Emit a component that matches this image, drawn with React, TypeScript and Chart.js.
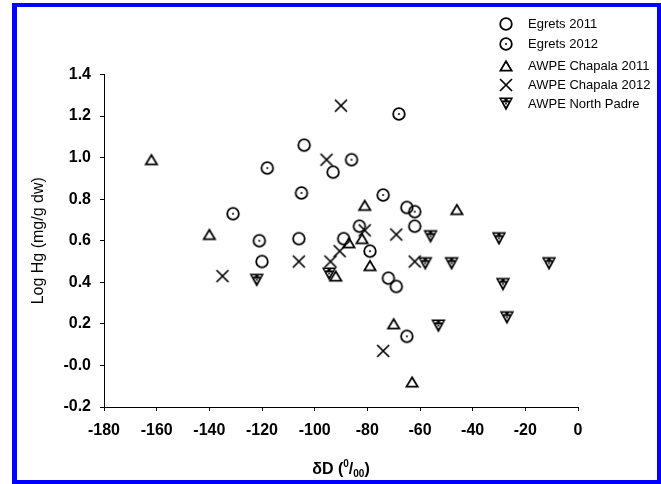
import React, { useEffect, useRef } from "react";
import { Chart, registerables } from "chart.js";

Chart.register(...registerables);

// ---- data ----
const seriesLabels = [
  "Egrets 2011",
  "Egrets 2012",
  "AWPE Chapala 2011",
  "AWPE Chapala 2012",
  "AWPE North Padre",
];

const egrets2011X = [-104, -93, -106, -120, -83, -89, -65, -62, -72, -69];
const egrets2011Y = [1.06, 0.93, 0.61, 0.5, 0.67, 0.61, 0.76, 0.67, 0.42, 0.38];

const egrets2012X = [-118, -131, -121, -105, -68, -86, -74, -62, -79, -65];
const egrets2012Y = [0.95, 0.73, 0.6, 0.83, 1.21, 0.99, 0.82, 0.74, 0.55, 0.14];

const chapala2011X = [-162, -140, -81, -46, -87, -82, -92, -79, -70, -63];
const chapala2011Y = [0.99, 0.63, 0.77, 0.75, 0.59, 0.61, 0.43, 0.48, 0.2, -0.08];

const chapala2012X = [-90, -95.5, -81, -69, -90.5, -94, -62, -106, -135, -74];
const chapala2012Y = [1.25, 0.99, 0.65, 0.63, 0.55, 0.5, 0.5, 0.5, 0.43, 0.07];

const northPadreX = [-122, -94.5, -56, -58, -48, -30, -11, -28.5, -27, -53];
const northPadreY = [0.41, 0.44, 0.62, 0.49, 0.49, 0.61, 0.49, 0.39, 0.23, 0.19];

const xMin = -180;
const xMax = 0;
const xStep = 20;
const yMin = -0.2;
const yMax = 1.4;
const yStep = 0.2;

const FONT = '"Liberation Sans", Arial, Helvetica, sans-serif';

// ---- marker images ----
function makeCanvas(size: number) {
  const c = document.createElement("canvas");
  c.width = size;
  c.height = size;
  return c;
}

function markerOpenCircle(dot: boolean) {
  const c = makeCanvas(18);
  const g = c.getContext("2d")!;
  g.strokeStyle = "#000";
  g.lineWidth = 1.8;
  g.beginPath();
  g.arc(9, 9, 5.8, 0, Math.PI * 2);
  g.stroke();
  if (dot) {
    g.fillStyle = "#000";
    g.beginPath();
    g.arc(9, 9, 1.0, 0, Math.PI * 2);
    g.fill();
  }
  return c;
}

function markerTriangleUp() {
  const c = makeCanvas(18);
  const g = c.getContext("2d")!;
  g.strokeStyle = "#000";
  g.lineWidth = 1.8;
  g.lineJoin = "miter";
  g.beginPath();
  g.moveTo(9, 4.2);
  g.lineTo(14.6, 13.6);
  g.lineTo(3.4, 13.6);
  g.closePath();
  g.stroke();
  return c;
}

function markerCross() {
  const c = makeCanvas(18);
  const g = c.getContext("2d")!;
  g.strokeStyle = "#000";
  g.lineWidth = 1.7;
  g.beginPath();
  g.moveTo(3, 3);
  g.lineTo(15, 15);
  g.moveTo(15, 3);
  g.lineTo(3, 15);
  g.stroke();
  return c;
}

function markerTriangleDown() {
  const c = makeCanvas(18);
  const g = c.getContext("2d")!;
  const cx = 9;
  const cy = 9;
  // black body
  g.fillStyle = "#000";
  g.beginPath();
  g.moveTo(cx - 7.2, cy - 6.5);
  g.lineTo(cx + 7.2, cy - 6.5);
  g.lineTo(cx, cy + 6.8);
  g.closePath();
  g.fill();
  // small white details: two dashes near the top and a small lower triangle
  g.fillStyle = "#fff";
  g.fillRect(cx - 4.4, cy - 4.9, 2.8, 1.3);
  g.fillRect(cx + 1.6, cy - 4.9, 2.8, 1.3);
  g.beginPath();
  g.moveTo(cx - 2.6, cy - 1.6);
  g.lineTo(cx + 2.6, cy - 1.6);
  g.lineTo(cx, cy + 2.8);
  g.closePath();
  g.fill();
  g.fillStyle = "#000";
  g.beginPath();
  g.arc(cx, cy - 0.3, 0.9, 0, Math.PI * 2);
  g.fill();
  return c;
}

function pts(xs: number[], ys: number[]) {
  return xs.map((x, i) => ({ x, y: ys[i] }));
}

const legendRowsY = [24, 44, 66, 85, 104];

const legendPlugin = {
  id: "insetLegend",
  afterDraw(chart: any) {
    const ctx = chart.ctx as CanvasRenderingContext2D;
    ctx.save();
    ctx.font = `13px ${FONT}`;
    ctx.fillStyle = "#000";
    ctx.textBaseline = "middle";
    ctx.textAlign = "left";
    chart.data.datasets.forEach((ds: any, i: number) => {
      const y = legendRowsY[i];
      const img = ds.pointStyle as HTMLCanvasElement;
      ctx.drawImage(img, 506 - img.width / 2, y - img.height / 2);
      ctx.fillText(ds.label, 528, y);
    });
    ctx.restore();
  },
};

const xTitlePlugin = {
  id: "xTitle",
  afterDraw(chart: any) {
    const ctx = chart.ctx as CanvasRenderingContext2D;
    const area = chart.chartArea;
    const cx = (area.left + area.right) / 2;
    const baseY = 474;
    const big = `bold 16px ${FONT}`;
    const small = `bold 10px ${FONT}`;
    const parts: { t: string; f: string; dy: number }[] = [
      { t: "\u03b4D (", f: big, dy: 0 },
      { t: "0", f: small, dy: -7 },
      { t: "/", f: big, dy: 0 },
      { t: "00", f: small, dy: 3 },
      { t: ")", f: big, dy: 0 },
    ];
    ctx.save();
    ctx.fillStyle = "#000";
    ctx.textBaseline = "alphabetic";
    ctx.textAlign = "left";
    let total = 0;
    parts.forEach((p) => {
      ctx.font = p.f;
      total += ctx.measureText(p.t).width;
    });
    let x = cx - total / 2;
    parts.forEach((p) => {
      ctx.font = p.f;
      ctx.fillText(p.t, x, baseY + p.dy);
      x += ctx.measureText(p.t).width;
    });
    ctx.restore();
  },
};

export default function App() {
  const ref = useRef<HTMLCanvasElement | null>(null);

  useEffect(() => {
    if (!ref.current) return;
    const styles = [
      markerOpenCircle(false),
      markerOpenCircle(true),
      markerTriangleUp(),
      markerCross(),
      markerTriangleDown(),
    ];
    const seriesData = [
      pts(egrets2011X, egrets2011Y),
      pts(egrets2012X, egrets2012Y),
      pts(chapala2011X, chapala2011Y),
      pts(chapala2012X, chapala2012Y),
      pts(northPadreX, northPadreY),
    ];
    const tickFont = { family: FONT, size: 16, weight: "bold" as const };

    const chart = new Chart(ref.current, {
      type: "scatter",
      data: {
        datasets: seriesLabels.map((label, i) => ({
          label,
          data: seriesData[i],
          pointStyle: styles[i],
          pointRadius: 7,
          showLine: false,
        })),
      },
      options: {
        animation: false,
        responsive: false,
        maintainAspectRatio: false,
        layout: { padding: { left: 12, top: 74.5, right: 83, bottom: 0 } },
        plugins: {
          legend: { display: false },
          tooltip: { enabled: false },
        },
        scales: {
          x: {
            type: "linear",
            min: xMin,
            max: xMax,
            ticks: {
              stepSize: xStep,
              color: "#000",
              font: tickFont,
              padding: 10,
              maxRotation: 0,
              callback: (v: any) => String(v),
            },
            grid: {
              drawOnChartArea: false,
              drawTicks: true,
              tickLength: 4,
              color: "#000",
              lineWidth: 1,
            },
            border: { display: true, color: "#000", width: 1 },
            afterFit: (s: any) => {
              s.height = 77;
            },
          },
          y: {
            type: "linear",
            min: yMin,
            max: yMax,
            ticks: {
              stepSize: yStep,
              color: "#000",
              font: tickFont,
              padding: 9,
              callback: (v: any) => Number(v).toFixed(1),
            },
            grid: {
              drawOnChartArea: false,
              drawTicks: true,
              tickLength: 4,
              color: "#000",
              lineWidth: 1,
            },
            border: { display: true, color: "#000", width: 1 },
            title: {
              display: true,
              text: "Log Hg (mg/g dw)",
              color: "#000",
              font: { family: FONT, size: 16, weight: "normal" },
              padding: { top: 17, bottom: 0 },
            },
            afterFit: (s: any) => {
              s.width = 92;
            },
          },
        },
      },
      plugins: [legendPlugin, xTitlePlugin],
    });
    return () => chart.destroy();
  }, []);

  return (
    <div
      style={{
        position: "fixed",
        left: 0,
        top: 0,
        width: 661,
        height: 484,
        background: "#fff",
      }}
    >
      <div
        style={{
          position: "absolute",
          left: 12,
          top: 3,
          width: 649,
          height: 481,
          boxSizing: "border-box",
          borderStyle: "solid",
          borderColor: "#0000ff",
          borderWidth: "4px 4px 4px 5px",
        }}
      />
      <canvas
        ref={ref}
        width={661}
        height={484}
        style={{ position: "absolute", left: 0, top: 0, width: 661, height: 484 }}
      />
    </div>
  );
}
